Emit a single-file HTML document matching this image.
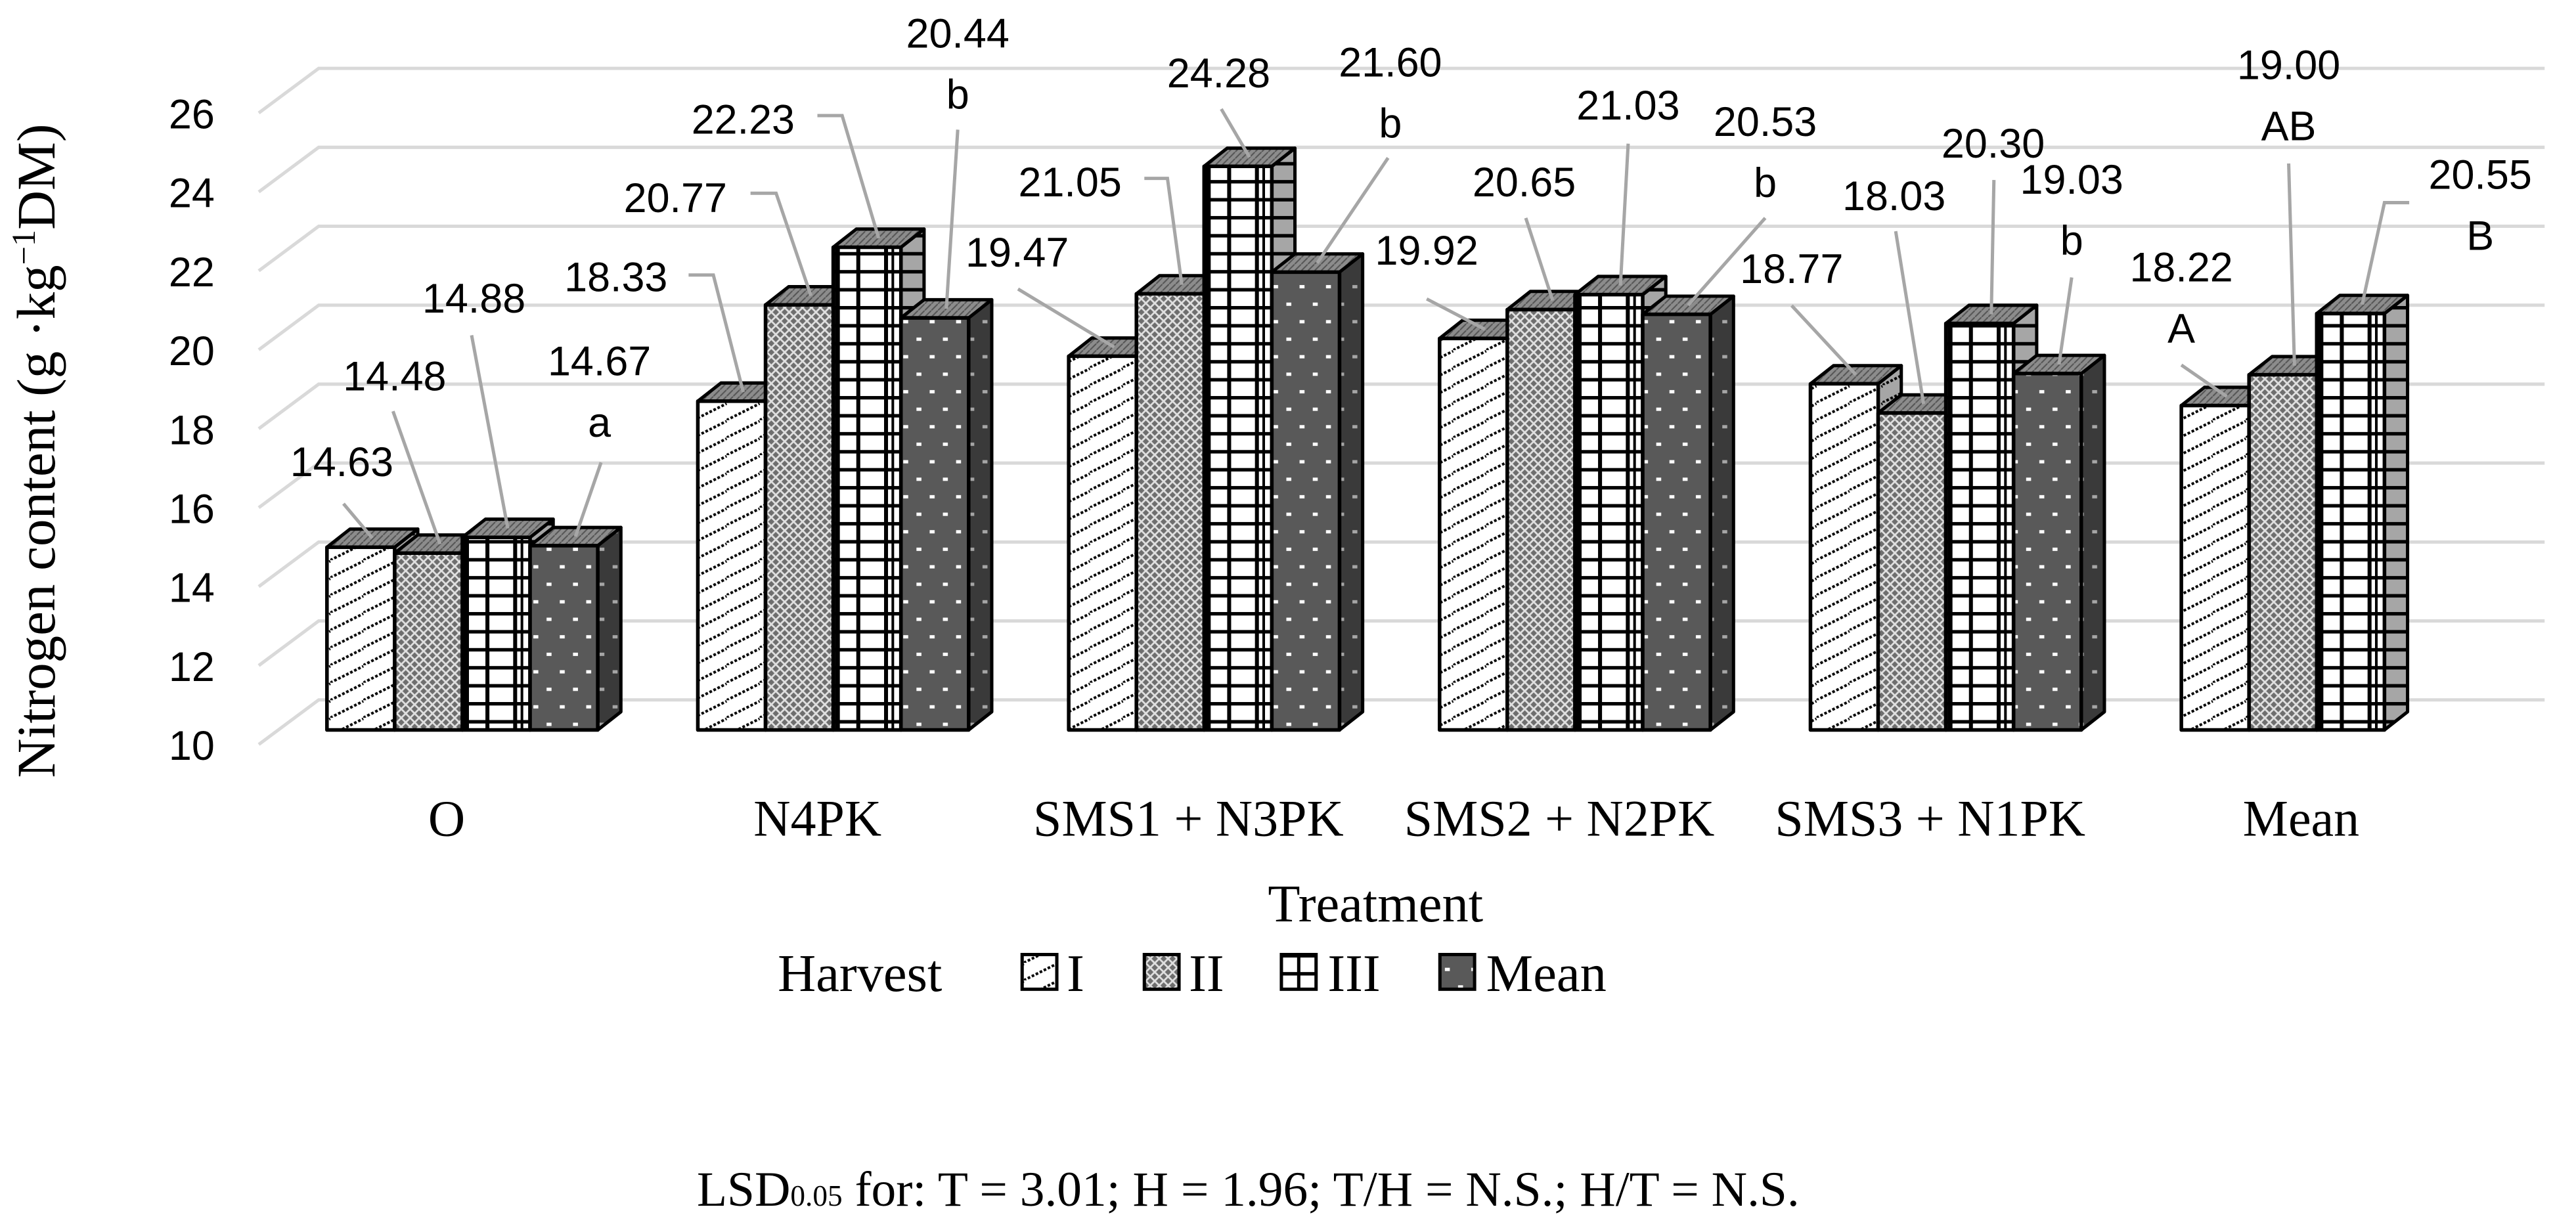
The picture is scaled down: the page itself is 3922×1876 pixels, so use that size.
<!DOCTYPE html>
<html><head><meta charset="utf-8"><style>
html,body{margin:0;padding:0;background:#fff;}
svg{display:block;}
</style></head><body>
<svg id="chart" width="3922" height="1876" viewBox="0 0 1560 746" preserveAspectRatio="none" xmlns="http://www.w3.org/2000/svg">
<defs>
 <pattern id="pI" patternUnits="userSpaceOnUse" width="20" height="10.6">
  <rect width="20" height="10.6" fill="#fff"/>
  <line x1="0" y1="10.6" x2="20" y2="0.6" stroke="#000" stroke-width="1.6" stroke-dasharray="1.6,1.1"/>
  <line x1="-20" y1="10.6" x2="0" y2="0.6" stroke="#000" stroke-width="1.6" stroke-dasharray="1.6,1.1"/>
  <line x1="0" y1="21.2" x2="20" y2="11.2" stroke="#000" stroke-width="1.6" stroke-dasharray="1.6,1.1"/>
 </pattern>
 <pattern id="pII" patternUnits="userSpaceOnUse" width="5.4" height="5.4">
  <rect width="5.4" height="5.4" fill="#6e6e6e"/>
  <path d="M0,2.7 L2.7,0 L5.4,2.7 L2.7,5.4 Z" fill="none" stroke="#e0e0e0" stroke-width="1.1"/>
 </pattern>
 <pattern id="pIII" patternUnits="userSpaceOnUse" width="10" height="10.9">
  <rect width="10" height="10.9" fill="#fff"/>
  <rect y="0" width="10" height="2.1" fill="#000"/>
 </pattern>
 <pattern id="pM" patternUnits="userSpaceOnUse" width="16" height="21.2">
  <rect width="16" height="21.2" fill="#595959"/>
  <rect x="3" y="3" width="3" height="2" fill="#fff"/>
  <rect x="11" y="13.6" width="3" height="2" fill="#fff"/>
 </pattern>
 <pattern id="pTop" patternUnits="userSpaceOnUse" width="4" height="4">
  <rect width="4" height="4" fill="#8c8c8c"/>
  <line x1="0" y1="4" x2="4" y2="0" stroke="#555" stroke-width="0.8"/>
 </pattern>
</defs>
<g id="grid"></g>
<g id="yticks"></g>
<g id="bars"></g>
<g id="labels"></g>
<g id="xcats"></g>
<text transform="translate(33,273) rotate(-90)" text-anchor="middle" font-family="Liberation Serif, serif" font-size="33" fill="#000">Nitrogen content (g ·kg<tspan dy="-12" font-size="20">−1</tspan><tspan dy="12">DM)</tspan></text>
<text x="833" y="558" text-anchor="middle" font-family="Liberation Serif, serif" font-size="32" fill="#000">Treatment</text>
<g font-family="Liberation Serif, serif" font-size="32" fill="#000">
 <text x="471" y="600">Harvest</text>
 <rect x="619" y="578" width="21" height="21" fill="url(#pI)" stroke="#000" stroke-width="2"/>
 <text x="646" y="600">I</text>
 <rect x="693" y="578" width="21" height="21" fill="url(#pII)" stroke="#000" stroke-width="2"/>
 <text x="720" y="600">II</text>
 <rect x="776" y="578" width="21" height="21" fill="url(#pIII)" stroke="#000" stroke-width="2"/>
 <line x1="786.5" y1="578" x2="786.5" y2="599" stroke="#000" stroke-width="2"/>
 <text x="804" y="600">III</text>
 <rect x="872" y="578" width="21" height="21" fill="url(#pM)" stroke="#000" stroke-width="2"/>
 <text x="900" y="600">Mean</text>
</g>
<text x="422" y="730" font-family="Liberation Serif, serif" font-size="30" fill="#000">LSD<tspan font-size="18">0.05</tspan> for: T = 3.01; H = 1.96; T/H = N.S.; H/T = N.S.</text>
</svg>
<script>
const categories = ["O","N4PK","SMS1 + N3PK","SMS2 + N2PK","SMS3 + N1PK","Mean"];
const harvestI = [14.63,18.33,19.47,19.92,18.77,18.22];
const harvestII = [14.48,20.77,21.05,20.65,18.03,19.00];
const harvestIII = [14.88,22.23,24.28,21.03,20.30,20.55];
const harvestMean = [14.67,20.44,21.60,20.53,19.03,null];
const yTicks = [10,12,14,16,18,20,22,24,26];
const meanLetters = ["a","b","b","b","b",null];
const groupLetters = ["A","AB","B"];

const NS='http://www.w3.org/2000/svg';
function mk(tag,attrs,parent){const e=document.createElementNS(NS,tag);for(const k in attrs)e.setAttribute(k,attrs[k]);parent.appendChild(e);return e;}
const Y0=442, PU=23.9;
function yFront(v){return Y0-(v-10)*PU;}
function yBack(v){return 423.8-(v-10)*PU;}
const GX0=198, GSTEP=224.6, BW=41, DX=14, DY=-11;
function barX(i,j){return GX0+GSTEP*i+BW*j;}
function catX(i){return 270.5+GSTEP*i;}

const grid=document.getElementById('grid'), yt=document.getElementById('yticks');
yTicks.forEach(t=>{
 const yb=yBack(t), yf=yb+27;
 const p=mk('polyline',{points:`156.7,${yf} 193,${yb} 1541,${yb}`,fill:'none',stroke:'#d9d9d9','stroke-width':2},grid);
 
 
 const tx=mk('text',{x:130,y:yf+1,'text-anchor':'end','dominant-baseline':'central','font-family':'Liberation Sans, sans-serif','font-size':25,fill:'#000'},yt);
 tx.textContent=t;
 
 
});

const series=[harvestI,harvestII,harvestIII,harvestMean];
const fills=['url(#pI)','url(#pII)','url(#pIII)','url(#pM)'];
const barsG=document.getElementById('bars');
const tops=[];
categories.forEach((c,i)=>{
 tops[i]=[];
 series.forEach((s,j)=>{
  const v=s[i]; if(v==null) return;
  const x=barX(i,j), y=yFront(v), w=BW, b=Y0;
  const g=mk('g',{},barsG);
  
  
  mk('polygon',{points:`${x+w},${y} ${x+w+DX},${y+DY} ${x+w+DX},${b+DY} ${x+w},${b}`,fill:fills[j],stroke:'#000','stroke-width':2,'stroke-linejoin':'round'},g);
  mk('polygon',{points:`${x+w},${y} ${x+w+DX},${y+DY} ${x+w+DX},${b+DY} ${x+w},${b}`,fill:'rgba(0,0,0,0.35)'},g);
  mk('polygon',{points:`${x},${y} ${x+DX},${y+DY} ${x+w+DX},${y+DY} ${x+w},${y}`,fill:'url(#pTop)',stroke:'#000','stroke-width':2,'stroke-linejoin':'round'},g);
  mk('rect',{x:x,y:y,width:w,height:b-y,fill:fills[j]},g);
  if(j===2){
   [0.37,0.78,0.88].forEach(f=>mk('line',{x1:x+w*f,y1:y,x2:x+w*f,y2:b,stroke:'#000','stroke-width':f<0.8?2.4:1.6},g));
   mk('line',{x1:x+2.5,y1:y,x2:x+2.5,y2:b,stroke:'#000','stroke-width':3},g);
  }
  mk('rect',{x:x,y:y,width:w,height:b-y,fill:'none',stroke:'#000','stroke-width':2.2,'stroke-linejoin':'round'},g);
  tops[i][j]=[x+w/2+DX/2, y+DY/2];
 });
});

const labelLayout=[
 [[207,280,[[208,305]]],[373,168,[[417,166.5],[432,166.5]]],[616,153,[[616.5,175]]],[864,152,[[864,181]]],[1085,163,[[1085,185]]],[1321,162,[[1321,221]]]],
 [[239,228,[[238,249]]],[409,120,[[454.5,117],[470,117]]],[648,110.5,[[693,108],[707,108]]],[923,110.5,[[924,132]]],[1147,119,[[1148,140]]],[1386,39.6,[[1386,99]]]],
 [[287,181,[[285.6,203]]],[450,72.5,[[495,70],[510,70]]],[738,44.5,[[739.6,66]]],[986,64,[[986,87]]],[1207,87,[[1207.5,109]]],[1502,106,[[1459,122.7],[1444,122.7]]]],
 [[363,219,[[364,280]]],[580,20.5,[[580,78.5]]],[842,38,[[840.6,95.6]]],[1069,74,[[1069,132]]],[1254.6,109,[[1254.6,168]]],null]
];
const lg=document.getElementById('labels');
series.forEach((s,j)=>{
 s.forEach((v,i)=>{
  if(v==null) return;
  const L=labelLayout[j][i], top=tops[i][j];
  const pts=L[2].map(p=>p.join(',')).join(' ')+' '+top[0]+','+top[1];
  const ln=mk('polyline',{points:pts,fill:'none',stroke:'#a6a6a6','stroke-width':2},lg);
  
  
  const t=mk('text',{x:L[0],y:L[1],'text-anchor':'middle','dominant-baseline':'central','font-family':'Liberation Sans, sans-serif','font-size':25,fill:'#000'},lg);
  t.textContent=v.toFixed(2);
  
  
  let letter=null;
  if(j===3) letter=meanLetters[i];
  if(i===5) letter=groupLetters[j];
  if(letter){
   const t2=mk('text',{x:L[0],y:L[1]+37,'text-anchor':'middle','dominant-baseline':'central','font-family':'Liberation Sans, sans-serif','font-size':25,fill:'#000'},lg);
   t2.textContent=letter;
   
   
  }
 });
});
const xc=document.getElementById('xcats');
categories.forEach((c,i)=>{
 const t=mk('text',{x:catX(i),y:506,'text-anchor':'middle','font-family':'Liberation Serif, serif','font-size':31,fill:'#000'},xc);
 t.textContent=c;
 
 
});
</script>
</body></html>
